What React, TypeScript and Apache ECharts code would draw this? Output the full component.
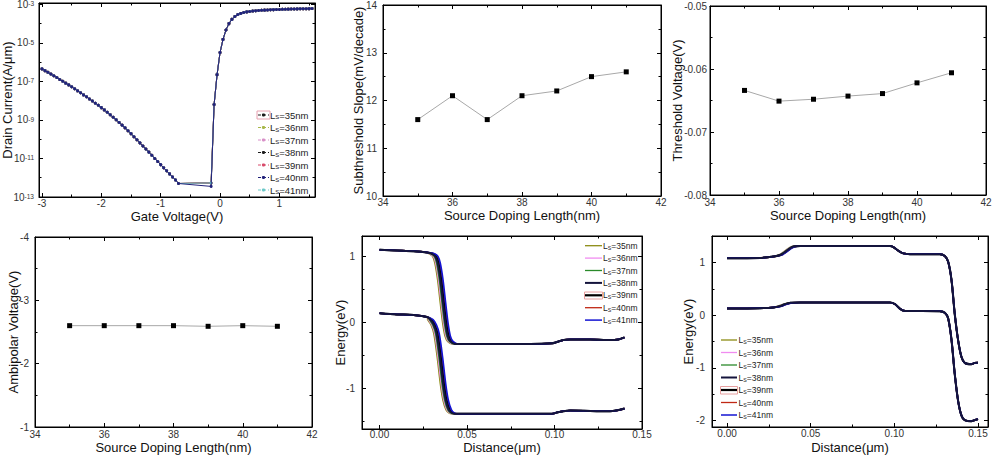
import { useEffect, useRef } from "react";
import * as echarts from "echarts";

const FONT = "'Liberation Sans', Arial, sans-serif";

// ---------- data ----------
const LS_NM = [35, 36, 37, 38, 39, 40, 41];

// Panel 1: Id-Vg (log10 of drain current)
const VG_LEFT = [-3, -2.95, -2.9, -2.85, -2.8, -2.75, -2.7, -2.65, -2.6, -2.55, -2.5, -2.45, -2.4, -2.35, -2.3, -2.25, -2.2, -2.15, -2.1, -2.05, -2, -1.95, -1.9, -1.85, -1.8, -1.75, -1.7, -1.65, -1.6, -1.55, -1.5, -1.45, -1.4, -1.35, -1.3, -1.25, -1.2, -1.15, -1.1, -1.05, -1, -0.95, -0.9, -0.85, -0.8, -0.75, -0.7];
const ID_LEFT = [-6.35, -6.44, -6.53, -6.62, -6.71, -6.8, -6.9, -6.99, -7.09, -7.18, -7.28, -7.38, -7.49, -7.59, -7.7, -7.8, -7.91, -8.02, -8.13, -8.24, -8.36, -8.48, -8.6, -8.73, -8.86, -8.99, -9.13, -9.27, -9.41, -9.56, -9.71, -9.87, -10.03, -10.19, -10.35, -10.51, -10.67, -10.83, -11.0, -11.16, -11.32, -11.48, -11.64, -11.8, -11.96, -12.12, -12.3];
const VG_KNEE = -0.15;
const ID_KNEE = [-12.27, -12.27, -12.27, -12.27, -12.27, -12.45, -12.27];
const VG_ON = [-0.1, -0.05, 0, 0.05, 0.1, 0.15, 0.2, 0.25, 0.3, 0.35, 0.4, 0.45, 0.5, 0.55, 0.6, 0.65, 0.7, 0.75, 0.8, 0.85, 0.9, 0.95, 1, 1.05, 1.1, 1.15, 1.2, 1.25, 1.3, 1.35, 1.4, 1.45, 1.5, 1.55];
const ID_ON = [-8.2, -6.65, -5.5, -4.82, -4.33, -4.0, -3.78, -3.63, -3.53, -3.47, -3.42, -3.39, -3.37, -3.35, -3.33, -3.32, -3.31, -3.3, -3.29, -3.28, -3.275, -3.27, -3.265, -3.26, -3.255, -3.25, -3.245, -3.24, -3.235, -3.23, -3.228, -3.225, -3.222, -3.22];
const ID_COLORS = ["#1a1a1a", "#a8b84a", "#d890c8", "#1e1e1e", "#d84a6a", "#22227a", "#6cc8c8"];
const ID_Z = [2, 2, 2, 2, 2, 4, 3];

// Panels 2-4
const SS = [11.6, 12.1, 11.6, 12.1, 12.2, 12.5, 12.6];
const VT = [-0.0634, -0.0651, -0.0648, -0.0643, -0.0639, -0.0622, -0.0606];
const VAMB = [-2.6, -2.6, -2.6, -2.6, -2.59, -2.6, -2.59];

// Panels 5-6: band profiles
const BAND_COLORS = ["#8c8c14", "#f08cf0", "#2a8a2a", "#14143c", "#000000", "#c02814", "#1414d2"];
const BAND_Z = [2, 2, 2, 5, 3, 2, 4];
const SHIFT_UM = [-0.0015, -0.001, -0.0005, 0, 0.0005, 0.001, 0.0015];

const CB5_X = [0, 0.0101, 0.0196, 0.0272, 0.03, 0.0319, 0.0332, 0.0348, 0.0363, 0.0377, 0.039, 0.0405, 0.0434, 0.05, 0.0862, 0.0984, 0.1013, 0.105, 0.109, 0.1204, 0.1318, 0.1366, 0.14];
const CB5_Y = [1.1, 1.09, 1.08, 1.06, 1.04, 1.0, 0.9, 0.64, 0.29, -0.02, -0.21, -0.29, -0.33, -0.33, -0.33, -0.32, -0.3, -0.27, -0.26, -0.26, -0.27, -0.26, -0.23];
const VB5_X = [0, 0.0101, 0.0196, 0.0272, 0.0291, 0.031, 0.0326, 0.0345, 0.0363, 0.0378, 0.0396, 0.0415, 0.0444, 0.05, 0.0984, 0.1013, 0.105, 0.109, 0.1318, 0.14];
const VB5_Y = [0.137, 0.12, 0.11, 0.08, 0.04, -0.04, -0.17, -0.52, -0.93, -1.18, -1.33, -1.38, -1.39, -1.39, -1.39, -1.37, -1.35, -1.34, -1.35, -1.31];

const CB6_X = [0, 0.0199, 0.0278, 0.0318, 0.0348, 0.0378, 0.0397, 0.0437, 0.0974, 0.0994, 0.1024, 0.1054, 0.1093, 0.1272, 0.1302, 0.1322, 0.1342, 0.1361, 0.1381, 0.1401, 0.1421, 0.146, 0.148, 0.15];
const CB6_Y = [1.08, 1.085, 1.11, 1.14, 1.2, 1.27, 1.3, 1.31, 1.31, 1.29, 1.22, 1.17, 1.155, 1.155, 1.12, 1.01, 0.66, 0.03, -0.47, -0.79, -0.905, -0.93, -0.905, -0.9];
const VB6_X = [0, 0.0199, 0.0278, 0.0318, 0.0348, 0.0378, 0.0437, 0.0974, 0.1004, 0.1034, 0.1064, 0.1272, 0.1302, 0.1322, 0.1342, 0.1361, 0.1381, 0.1401, 0.1421, 0.146, 0.148, 0.15];
const VB6_Y = [0.127, 0.133, 0.146, 0.171, 0.209, 0.234, 0.24, 0.24, 0.209, 0.12, 0.08, 0.076, 0.044, -0.063, -0.475, -1.11, -1.62, -1.9, -1.99, -2.01, -1.99, -1.97];

// ---------- helpers ----------
const TICK_COLOR = "#000";
const LABEL_STYLE = { fontSize: 10, color: "#333", fontFamily: FONT };
const NAME_STYLE = { fontSize: 13, color: "#111", fontFamily: FONT };

type AxOpt = {
  grid: number;
  min: number;
  max: number;
  major: number[];
  labels: number[];
  minor: number[];
  fmt?: (v: number) => string;
  rich?: any;
  lineHeight?: number;
  name: string;
  nameGap: number;
  margin: number;
  inverse?: boolean;
};

function makeAxes(dim: "x" | "y", o: AxOpt) {
  const p1 = dim === "x" ? "bottom" : "left";
  const p2 = dim === "x" ? "top" : "right";
  const base: any = {
    type: "value",
    gridIndex: o.grid,
    min: o.min,
    max: o.max,
    inverse: !!o.inverse,
    splitLine: { show: false },
    axisPointer: { show: false },
  };
  const line = { show: true, onZero: false, lineStyle: { color: TICK_COLOR, width: 1 } };
  const noLine = { show: false, onZero: false };
  const majorTick = { show: true, inside: true, length: 4, customValues: o.major, lineStyle: { color: TICK_COLOR, width: 1 } };
  const minorTick = { show: true, inside: true, length: 2.5, customValues: o.minor, lineStyle: { color: TICK_COLOR, width: 1 } };
  const label: any = { show: true, customValues: o.labels, margin: o.margin, ...LABEL_STYLE };
  if (o.fmt) label.formatter = o.fmt;
  if (o.rich) label.rich = o.rich;
  if (o.lineHeight) label.lineHeight = o.lineHeight;
  return [
    { ...base, position: p1, axisLine: line, axisTick: majorTick, axisLabel: label, name: o.name, nameLocation: "middle", nameGap: o.nameGap, nameMoveOverlap: false, nameTextStyle: NAME_STYLE },
    { ...base, position: p2, axisLine: line, axisTick: majorTick, axisLabel: { show: false } },
    { ...base, position: p1, axisLine: noLine, axisTick: minorTick, axisLabel: { show: false } },
    { ...base, position: p2, axisLine: noLine, axisTick: minorTick, axisLabel: { show: false } },
  ];
}

function shiftProfile(xs: number[], ys: number[], s: number, lo: number, hi: number) {
  return xs.map((x, i) => [x >= lo && x <= hi ? x + s : x, ys[i]]);
}

const LS_FIX = [34, 36, 38, 40, 42];
const LS_MINOR = [35, 37, 39, 41];

// legend drawn as graphic elements
function legendGraphic(opts: {
  colors: string[];
  x0: number;
  x1: number;
  textX: number;
  y0: number;
  dy: number;
  fontSize: number;
  dashed: boolean;
  dot: boolean;
  widths?: number[];
}) {
  const els: any[] = [];
  LS_NM.forEach((ls, k) => {
    const y = opts.y0 + k * opts.dy;
    els.push({
      type: "line",
      shape: { x1: opts.x0, y1: y, x2: opts.x1, y2: y },
      style: { stroke: opts.colors[k], lineWidth: opts.widths ? opts.widths[k] : 1, lineDash: opts.dashed ? [3, 2] : null },
      silent: true,
    });
    if (opts.dot) {
      els.push({
        type: "circle",
        shape: { cx: (opts.x0 + opts.x1) / 2, cy: y, r: 1.6 },
        style: { fill: opts.colors[k] },
        silent: true,
      });
    }
    els.push({
      type: "text",
      x: opts.textX,
      y,
      silent: true,
      style: {
        text: `L{sub|S}=${ls}nm`,
        fill: "#222",
        fontSize: opts.fontSize,
        fontFamily: FONT,
        verticalAlign: "middle",
        align: "left",
        rich: {
          sub: { fontSize: opts.fontSize * 0.62, fontFamily: FONT, fill: "#222", verticalAlign: "bottom", padding: [opts.fontSize * 0.5, 0, 0, 0] },
        },
      },
    });
  });
  return els;
}

export default function App() {
  const ref = useRef<HTMLDivElement>(null);
  useEffect(() => {
    if (!ref.current) return;
    const chart = echarts.init(ref.current, undefined, { renderer: "svg" });

    const grids = [
      { left: 39, top: 3, width: 276, height: 194 },
      { left: 383, top: 5, width: 278, height: 191 },
      { left: 710, top: 6, width: 276, height: 189 },
      { left: 35, top: 237, width: 277, height: 190 },
      { left: 362, top: 236, width: 280, height: 193 },
      { left: 712, top: 236, width: 276, height: 191 },
    ].map((g) => ({
      ...g,
      containLabel: false,
      outerBoundsMode: "none",
      show: true,
      borderColor: "#000",
      borderWidth: 1,
      backgroundColor: "transparent",
    }));

    const supRich = {
      sup: { fontSize: 6.5, lineHeight: 8, color: "#333", fontFamily: FONT, verticalAlign: "top" },
    };
    const f2 = (v: number) => v.toFixed(2);

    const xAxis = [
      ...makeAxes("x", { grid: 0, min: -3.05, max: 1.6, major: [-3, -2, -1, 0, 1], labels: [-3, -2, -1, 0, 1], minor: [-2.5, -1.5, -0.5, 0.5, 1.5], name: "Gate Voltage(V)", nameGap: 13, margin: 1.5 }),
      ...makeAxes("x", { grid: 1, min: 34, max: 42, major: LS_FIX, labels: LS_FIX, minor: LS_MINOR, name: "Source Doping Length(nm)", nameGap: 13, margin: 1.5 }),
      ...makeAxes("x", { grid: 2, min: 34, max: 42, major: LS_FIX, labels: LS_FIX, minor: LS_MINOR, name: "Source Doping Length(nm)", nameGap: 14, margin: 2 }),
      ...makeAxes("x", { grid: 3, min: 34, max: 42, major: LS_FIX, labels: LS_FIX, minor: LS_MINOR, name: "Source Doping Length(nm)", nameGap: 14, margin: 2 }),
      ...makeAxes("x", { grid: 4, min: -0.01, max: 0.15, major: [0, 0.05, 0.1, 0.15], labels: [0, 0.05, 0.1, 0.15], minor: [0.025, 0.075, 0.125], fmt: f2, name: "Distance(μm)", nameGap: 11.5, margin: 0.5 }),
      ...makeAxes("x", { grid: 5, min: -0.009, max: 0.156, major: [0, 0.05, 0.1, 0.15], labels: [0, 0.05, 0.1, 0.15], minor: [0.025, 0.075, 0.125], fmt: f2, name: "Distance(μm)", nameGap: 14, margin: 1 }),
    ];
    const yAxis = [
      ...makeAxes("y", { grid: 0, min: -13, max: -2.93, major: [-13, -11, -9, -7, -5, -3], labels: [-13, -11, -9, -7, -5, -3], minor: [-12, -10, -8, -6, -4], fmt: (v: number) => `10{sup|${Math.round(v)}}`, rich: supRich, lineHeight: 8, name: "Drain Current(A/μm)", nameGap: 25, margin: 5 }),
      ...makeAxes("y", { grid: 1, min: 10, max: 14, major: [10, 11, 12, 13, 14], labels: [10, 11, 12, 13, 14], minor: [10.5, 11.5, 12.5, 13.5], name: "Subthreshold Slope(mV/decade)", nameGap: 18, margin: 6 }),
      ...makeAxes("y", { grid: 2, min: -0.08, max: -0.05, major: [-0.08, -0.07, -0.06, -0.05], labels: [-0.08, -0.07, -0.06, -0.05], minor: [-0.075, -0.065, -0.055], fmt: f2, name: "Threshold Voltage(V)", nameGap: 26, margin: 3 }),
      ...makeAxes("y", { grid: 3, min: -4, max: -1, inverse: true, major: [-4, -3, -2, -1], labels: [-4, -3, -2, -1], minor: [-3.5, -2.5, -1.5], name: "Ambipolar Voltage(V)", nameGap: 15, margin: 6 }),
      ...makeAxes("y", { grid: 4, min: -1.62, max: 1.31, major: [-1, 0, 1], labels: [-1, 0, 1], minor: [-1.5, -0.5, 0.5], name: "Energy(eV)", nameGap: 15, margin: 7 }),
      ...makeAxes("y", { grid: 5, min: -2.12, max: 1.5, major: [-2, -1, 0, 1], labels: [-2, -1, 0, 1], minor: [-1.5, -0.5, 0.5], name: "Energy(eV)", nameGap: 17, margin: 7 }),
    ];

    const series: any[] = [];

    // Panel 1
    LS_NM.forEach((ls, k) => {
      const data: number[][] = [];
      VG_LEFT.forEach((v, i) => data.push([v, ID_LEFT[i]]));
      data.push([VG_KNEE, ID_KNEE[k]]);
      VG_ON.forEach((v, i) => data.push([v, ID_ON[i]]));
      series.push({
        type: "line",
        name: `Id ${ls}`,
        xAxisIndex: 0,
        yAxisIndex: 0,
        data,
        z: ID_Z[k],
        symbol: "circle",
        symbolSize: 3,
        showSymbol: true,
        lineStyle: { color: ID_COLORS[k], width: 1 },
        itemStyle: { color: ID_COLORS[k] },
      });
    });

    // Panels 2-4
    const scatterLine = (idx: number, vals: number[], name: string) => ({
      type: "line",
      name,
      xAxisIndex: idx * 4,
      yAxisIndex: idx * 4,
      data: LS_NM.map((ls, i) => [ls, vals[i]]),
      symbol: "rect",
      symbolSize: 5,
      lineStyle: { color: "#a8a8a8", width: 1 },
      itemStyle: { color: "#000" },
    });
    series.push(scatterLine(1, SS, "SS"));
    series.push(scatterLine(2, VT, "Vt"));
    series.push(scatterLine(3, VAMB, "Vamb"));

    // Panels 5-6
    LS_NM.forEach((ls, k) => {
      const common = {
        type: "line",
        symbol: "none",
        smooth: 0.3,
        z: BAND_Z[k],
        lineStyle: { color: BAND_COLORS[k], width: k === 3 || k === 4 ? 2 : 1.7 },
        itemStyle: { color: BAND_COLORS[k] },
      };
      series.push({ ...common, name: `Eb ${ls}`, xAxisIndex: 16, yAxisIndex: 16, data: shiftProfile(CB5_X, CB5_Y, SHIFT_UM[k], 0.029, 0.046) });
      series.push({ ...common, name: `Eb ${ls}`, xAxisIndex: 16, yAxisIndex: 16, data: shiftProfile(VB5_X, VB5_Y, SHIFT_UM[k], 0.028, 0.046) });
      series.push({ ...common, name: `Ep ${ls}`, xAxisIndex: 20, yAxisIndex: 20, data: shiftProfile(CB6_X, CB6_Y, SHIFT_UM[k] * 0.6, 0.029, 0.042) });
      series.push({ ...common, name: `Ep ${ls}`, xAxisIndex: 20, yAxisIndex: 20, data: shiftProfile(VB6_X, VB6_Y, SHIFT_UM[k] * 0.6, 0.029, 0.042) });
    });

    const bandWidths = [1.3, 1.3, 1.3, 2, 2.2, 1.3, 1.5];
    const graphic = [
      ...legendGraphic({ colors: ID_COLORS, x0: 258, x1: 269, textX: 270, y0: 115, dy: 12.5, fontSize: 9.5, dashed: true, dot: true }),
      ...legendGraphic({ colors: BAND_COLORS, x0: 585, x1: 602, textX: 603, y0: 245.7, dy: 12.4, fontSize: 8.5, dashed: false, dot: false, widths: bandWidths }),
      ...legendGraphic({ colors: BAND_COLORS, x0: 721, x1: 737, textX: 738.5, y0: 340, dy: 12.5, fontSize: 8.5, dashed: false, dot: false, widths: bandWidths }),
      { type: "rect", silent: true, shape: { x: 257, y: 111, width: 13, height: 8 }, style: { fill: "none", stroke: "#e8a0b0", lineWidth: 1 } },
      { type: "rect", silent: true, shape: { x: 584.5, y: 292, width: 18, height: 7 }, style: { fill: "none", stroke: "#e8a0a0", lineWidth: 1 } },
      { type: "rect", silent: true, shape: { x: 720.5, y: 386.5, width: 17, height: 7.5 }, style: { fill: "none", stroke: "#e8a0a0", lineWidth: 1 } },
    ];

    chart.setOption({
      animation: false,
      backgroundColor: "#fff",
      grid: grids,
      xAxis,
      yAxis,
      series,
      graphic,
    });

    return () => chart.dispose();
  }, []);

  return <div ref={ref} style={{ position: "fixed", left: 0, top: 0, width: 994, height: 459, background: "#fff" }} />;
}
